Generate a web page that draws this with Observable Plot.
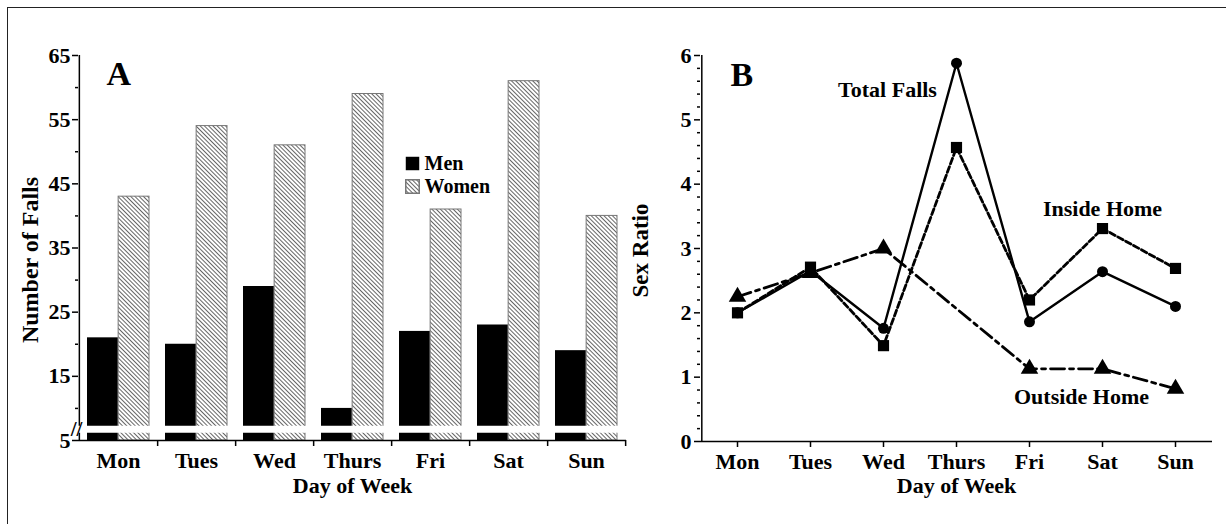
<!DOCTYPE html>
<html><head><meta charset="utf-8">
<script src="https://cdn.jsdelivr.net/npm/d3@7"></script>
<script src="https://cdn.jsdelivr.net/npm/@observablehq/plot@0.6"></script>
<style>
html,body{margin:0;padding:0;background:#fff;}
body{width:1226px;height:524px;position:relative;overflow:hidden;}
#frame{position:absolute;left:7px;top:7px;width:1400px;height:700px;border-top:1.5px solid #222;border-left:1.5px solid #222;box-sizing:border-box;}
#a{position:absolute;left:0;top:0;}
#b{position:absolute;left:600px;top:0;}
</style></head><body>
<div id="frame"></div><div id="a"></div><div id="b"></div>
<script>
// ---- Data ----
const days = ["Mon","Tues","Wed","Thurs","Fri","Sat","Sun"];
const men = [21,20,29,10,22,23,19];
const women = [43,54,51,59,41,61,40];
const yTicksA = [5,15,25,35,45,55,65];
const yMinorA = [10,20,30,40,50,60];
const axisBreak = [6.13, 7.22];

const totalFalls  = [2.0, 2.65, 1.76, 5.88, 1.86, 2.64, 2.10];
const insideHome  = [2.0, 2.71, 1.49, 4.57, 2.20, 3.31, 2.69];
const outsideHome = [2.25, 2.62, 3.0, null, 1.13, 1.13, 0.82];
const yTicksB = [0,1,2,3,4,5,6];
const yMinorB = [0.2,0.4,0.6,0.8,1.2,1.4,1.6,1.8,2.2,2.4,2.6,2.8,3.2,3.4,3.6,3.8,4.2,4.4,4.6,4.8,5.2,5.4,5.6,5.8];
const seriesLabels = [
  {label: "Total Falls", day: "Wed", value: 5.47},
  {label: "Inside Home", day: "Sat", value: 3.62},
  {label: "Outside Home", day: "Sat", value: 0.69}
];

const FONT = "'Liberation Serif','Times New Roman',Times,serif";
const H = 524;

function addHatch(svg, id) {
  const ns = "http://www.w3.org/2000/svg";
  const defs = document.createElementNS(ns, "defs");
  const p = document.createElementNS(ns, "pattern");
  p.setAttribute("id", id);
  p.setAttribute("patternUnits", "userSpaceOnUse");
  p.setAttribute("width", "3");
  p.setAttribute("height", "3");
  p.setAttribute("patternTransform", "rotate(-45)");
  const bg = document.createElementNS(ns, "rect");
  bg.setAttribute("width", "3"); bg.setAttribute("height", "3"); bg.setAttribute("fill", "#fff");
  const ln = document.createElementNS(ns, "line");
  ln.setAttribute("x1", "1.5"); ln.setAttribute("y1", "-1");
  ln.setAttribute("x2", "1.5"); ln.setAttribute("y2", "4");
  ln.setAttribute("stroke", "#555"); ln.setAttribute("stroke-width", "0.9");
  p.appendChild(bg); p.appendChild(ln); defs.appendChild(p);
  svg.insertBefore(defs, svg.firstChild);
}

// ---- Panel A ----
const WA = 640, mlA = 78, mrA = 14, mtA = 55, mbA = 84;
const bw = (WA - mlA - mrA) / days.length;
const rowsA = days.map((d, i) => ({day: d, men: men[i], women: women[i]}));

const plotA = Plot.plot({
  width: WA, height: H,
  marginLeft: mlA, marginRight: mrA, marginTop: mtA, marginBottom: mbA,
  style: {fontFamily: FONT, fontWeight: "bold", fontSize: "22px", color: "#000", background: "transparent"},
  x: {type: "band", domain: days, padding: 0, axis: null},
  y: {domain: [5, 65], axis: null},
  marks: [
    Plot.barY(rowsA, {x: "day", y1: 5, y2: "men", fill: "#000", insetLeft: 8, insetRight: bw / 2}),
    Plot.barY(rowsA, {x: "day", y1: 5, y2: "women", fill: "url(#hatchA)", stroke: "#777", strokeWidth: 1, insetLeft: bw / 2, insetRight: 8}),
    Plot.ruleY([5], {stroke: "#000", strokeWidth: 1.5}),
    Plot.ruleX(["Mon"], {x: d => d, y1: 5, y2: 65, dx: -bw / 2, stroke: "#000", strokeWidth: 1.5}),
    Plot.rect([axisBreak], {y1: d => d[0], y2: d => d[1], fill: "#fff", insetLeft: -3}),
    Plot.text([axisBreak], {y: d => (d[0] + d[1]) / 2, frameAnchor: "left", text: () => "//", textAnchor: "middle", dx: -2, fontSize: 21}),
    Plot.ruleX(days, {x: d => d, y1: 5, y2: 5, insetBottom: -6, dx: bw / 2, stroke: "#000", strokeWidth: 1.5}),
    Plot.axisY({ticks: yTicksA, tickSize: 6, tickPadding: 2, fontSize: 22, label: null, strokeWidth: 1.5}),
    Plot.axisY({ticks: yMinorA, tickSize: 3, tickFormat: () => "", label: null, strokeWidth: 1.5}),
    Plot.axisX({tickSize: 0, tickPadding: 12, fontSize: 22, label: null}),
    Plot.text(["Day of Week"], {frameAnchor: "bottom", lineAnchor: "middle", dy: 45, fontSize: 22}),
    Plot.text(["Number of Falls"], {frameAnchor: "left", rotate: -90, textAnchor: "middle", lineAnchor: "middle", dx: -48, dy: 12, fontSize: 24}),
    Plot.text(["A"], {frameAnchor: "top-left", dx: 28, dy: 29, lineAnchor: "bottom", textAnchor: "start", fontSize: 34}),
    // legend
    Plot.dot(["Men"], {frameAnchor: "top-left", dx: 334, dy: 108, symbol: "square", r: 7.6, fill: "#000"}),
    Plot.dot(["Women"], {frameAnchor: "top-left", dx: 334, dy: 131, symbol: "square", r: 7.6, fill: "url(#hatchA)", stroke: "#777"}),
    Plot.text(["Men"], {frameAnchor: "top-left", dx: 346, dy: 108, textAnchor: "start", lineAnchor: "middle", fontSize: 20}),
    Plot.text(["Women"], {frameAnchor: "top-left", dx: 346, dy: 131, textAnchor: "start", lineAnchor: "middle", fontSize: 20})
  ]
});
addHatch(plotA, "hatchA");
document.getElementById("a").appendChild(plotA);

// ---- Panel B ----
const WB = 626, mlB = 100, mrB = 14, mtB = 55, mbB = 83;
const padB = 0.486;
const stepB = (WB - mlB - mrB) / (days.length - 1 + 2 * padB);
const rowsB = days.map((d, i) => ({day: d, total: totalFalls[i], inside: insideHome[i], outside: outsideHome[i]}));
const rowsOut = rowsB.filter(d => d.outside != null);

const plotB = Plot.plot({
  width: WB, height: H,
  marginLeft: mlB, marginRight: mrB, marginTop: mtB, marginBottom: mbB,
  style: {fontFamily: FONT, fontWeight: "bold", fontSize: "22px", color: "#000", background: "transparent"},
  x: {type: "point", domain: days, padding: padB, axis: null},
  y: {domain: [0, 6], axis: null},
  marks: [
    Plot.ruleY([0], {stroke: "#000", strokeWidth: 1.5}),
    Plot.ruleX(["Mon"], {x: d => d, y1: 0, y2: 6, dx: -padB * stepB, stroke: "#000", strokeWidth: 1.5}),
    Plot.axisY({ticks: yTicksB, tickFormat: d => String(d), tickSize: 6, tickPadding: 3, fontSize: 22, label: null, strokeWidth: 1.5}),
    Plot.axisY({ticks: yMinorB, tickSize: 3, tickFormat: () => "", label: null, strokeWidth: 1.5}),
    Plot.axisX({tickSize: 6, tickPadding: 6, fontSize: 22, label: null, strokeWidth: 1.5}),
    Plot.text(["Day of Week"], {frameAnchor: "bottom", lineAnchor: "middle", dy: 44, fontSize: 22}),
    Plot.text(["Sex Ratio"], {frameAnchor: "left", rotate: -90, textAnchor: "middle", lineAnchor: "middle", dx: -60, dy: 2, fontSize: 23}),
    Plot.text(["B"], {frameAnchor: "top-left", dx: 30, dy: 30, lineAnchor: "bottom", textAnchor: "start", fontSize: 34}),
    Plot.line(rowsOut, {x: "day", y: "outside", stroke: "#000", strokeWidth: 2.8, strokeDasharray: "14,5,4,5"}),
    Plot.line(rowsB, {x: "day", y: "total", stroke: "#000", strokeWidth: 2.4}),
    Plot.line(rowsB, {x: "day", y: "inside", stroke: "#000", strokeWidth: 2.8, strokeDasharray: "6,3"}),
    Plot.dot(rowsOut, {x: "day", y: "outside", symbol: "triangle", r: 6.5, fill: "#000"}),
    Plot.dot(rowsB, {x: "day", y: "total", symbol: "circle", r: 5.5, fill: "#000"}),
    Plot.dot(rowsB, {x: "day", y: "inside", symbol: "square", r: 6.3, fill: "#000"}),
    Plot.text(seriesLabels.slice(0, 1), {x: "day", y: "value", text: "label", dx: 4, fontSize: 22}),
    Plot.text(seriesLabels.slice(1, 2), {x: "day", y: "value", text: "label", dx: 0, fontSize: 22}),
    Plot.text(seriesLabels.slice(2, 3), {x: "day", y: "value", text: "label", dx: -21, fontSize: 22})
  ]
});
document.getElementById("b").appendChild(plotB);
</script>
</body></html>
